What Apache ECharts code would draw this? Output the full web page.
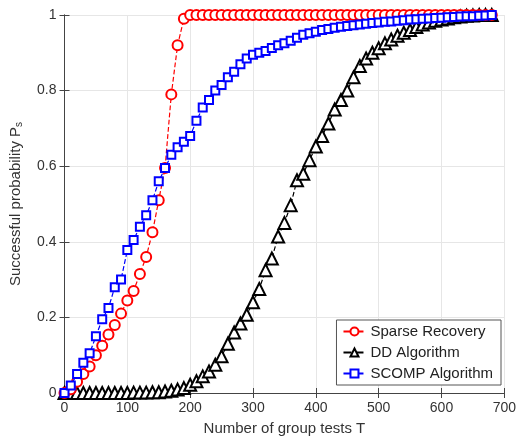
<!DOCTYPE html>
<html>
<head>
<meta charset="utf-8">
<script src="https://cdn.jsdelivr.net/npm/echarts@6/dist/echarts.min.js"></script>
<style>html,body{margin:0;padding:0;background:#fff}#c{width:519px;height:448px}</style>
</head>
<body>
<div id="c"></div>
<script>
const tValues = [0,10,20,30,40,50,60,70,80,90,100,110,120,130,140,150,160,170,180,190,200,210,220,230,240,250,260,270,280,290,300,310,320,330,340,350,360,370,380,390,400,410,420,430,440,450,460,470,480,490,500,510,520,530,540,550,560,570,580,590,600,610,620,630,640,650,660,670,680];
const sparseRecovery = [0,0.01,0.03,0.05,0.07,0.1,0.125,0.155,0.18,0.21,0.245,0.27,0.315,0.36,0.425,0.51,0.595,0.79,0.92,0.99,
  1,1,1,1,1,1,1,1,1,1,1,1,1,1,1,1,1,1,1,1,1,1,1,1,1,1,1,1,1,1,1,1,1,1,1,1,1,1,1,1,1,1,1,1,1,1,1,1,1];
const ddAlgorithm = [0,0,0,0,0,0,0,0,0,0,0,0.001,0.001,0.001,0.002,0.002,0.004,0.006,0.009,0.013,
  0.022,0.031,0.044,0.057,0.075,0.097,0.13,0.16,0.184,0.207,0.24,0.275,0.325,0.356,0.414,0.45,0.497,0.563,0.58,0.616,
  0.652,0.68,0.713,0.75,0.775,0.8,0.835,0.865,0.885,0.9,0.912,0.925,0.935,0.945,0.953,0.96,0.968,0.975,0.98,0.985,
  0.988,0.991,0.994,0.996,0.998,0.999,1,1,1];
const scompAlgorithm = [0,0.02,0.05,0.08,0.105,0.15,0.195,0.225,0.28,0.3,0.378,0.405,0.44,0.47,0.51,0.56,0.595,0.63,0.65,0.665,
  0.68,0.72,0.755,0.775,0.8,0.815,0.835,0.85,0.87,0.885,0.895,0.9,0.905,0.913,0.92,0.925,0.932,0.94,0.948,0.952,
  0.956,0.96,0.963,0.966,0.969,0.971,0.973,0.975,0.977,0.979,0.98,0.982,0.983,0.985,0.986,0.988,0.989,0.99,0.991,0.992,
  0.993,0.994,0.995,0.996,0.997,0.997,0.998,0.999,1.0];
const xTicks = [0,100,200,300,400,500,600,700];
const yTicks = [0,0.2,0.4,0.6,0.8,1];
const seriesNames = ['Sparse Recovery','DD Algorithm','SCOMP Algorithm'];

const pair = arr => tValues.map((t,i)=>[t,arr[i]]);
const FONT = 'Liberation Sans';
const txt = '#333';
const axCommon = {
  axisLine:{show:true,lineStyle:{color:'#444',width:1}},
  axisTick:{show:true,inside:true,length:5,lineStyle:{color:'#444'}},
  splitLine:{show:false}
};
const chart = echarts.init(document.getElementById('c'),null,{renderer:'canvas'});
chart.setOption({
  backgroundColor:'#fff',
  animation:false,
  grid:{left:64,right:14,top:15,bottom:55},
  legend:{
    orient:'vertical', right:18, bottom:63,
    backgroundColor:'#fff', borderColor:'#555', borderWidth:1,
    padding:[4,8,4,6], itemGap:6, itemWidth:22, itemHeight:10,
    textStyle:{fontFamily:FONT,fontSize:15,color:'#222'},
    data:seriesNames
  },
  xAxis:[
    Object.assign({type:'value',min:0,max:700,interval:100,position:'bottom',
      name:'Number of group tests T',nameLocation:'middle',nameGap:28,
      nameTextStyle:{fontFamily:FONT,fontSize:15,color:txt},
      axisLabel:{fontFamily:FONT,fontSize:14,color:txt,margin:8}},axCommon,
      {splitLine:{show:true,lineStyle:{color:'#e6e6e6',width:1}}}),
    Object.assign({type:'value',min:0,max:700,interval:100,position:'top',axisLabel:{show:false}},axCommon)
  ],
  yAxis:[
    Object.assign({type:'value',min:0,max:1,interval:0.2,position:'left',
      name:'Successful probability P{s|s}',nameLocation:'middle',nameGap:40,
      nameTextStyle:{fontFamily:FONT,fontSize:15,color:txt,rich:{s:{fontFamily:FONT,fontSize:10,color:txt,verticalAlign:'bottom',padding:[8,0,0,0]}}},
      axisLabel:{fontFamily:FONT,fontSize:14,color:txt,margin:8,formatter:v=>String(+v.toFixed(1))}},axCommon,
      {splitLine:{show:true,lineStyle:{color:'#e6e6e6',width:1}}}),
    Object.assign({type:'value',min:0,max:1,interval:0.2,position:'right',axisLabel:{show:false}},axCommon)
  ],
  series:[
    {name:seriesNames[0],type:'line',data:pair(sparseRecovery),symbol:'emptyCircle',symbolSize:10,
      color:'#ff0000',lineStyle:{type:'dashed',width:1.2,color:'#ff0000'},itemStyle:{color:'#ff0000',borderWidth:1.2},z:3},
    {name:seriesNames[1],type:'line',data:pair(ddAlgorithm),symbol:'emptyTriangle',symbolSize:12,
      color:'#000',lineStyle:{type:'dashed',width:1.2,color:'#000'},itemStyle:{color:'#000',borderWidth:1.2},z:2},
    {name:seriesNames[2],type:'line',data:pair(scompAlgorithm),symbol:'emptyRect',symbolSize:8,
      color:'#0000ff',lineStyle:{type:'dashed',width:1.2,color:'#0000ff'},itemStyle:{color:'#0000ff',borderWidth:1.2},z:4}
  ]
});
</script>
</body>
</html>
